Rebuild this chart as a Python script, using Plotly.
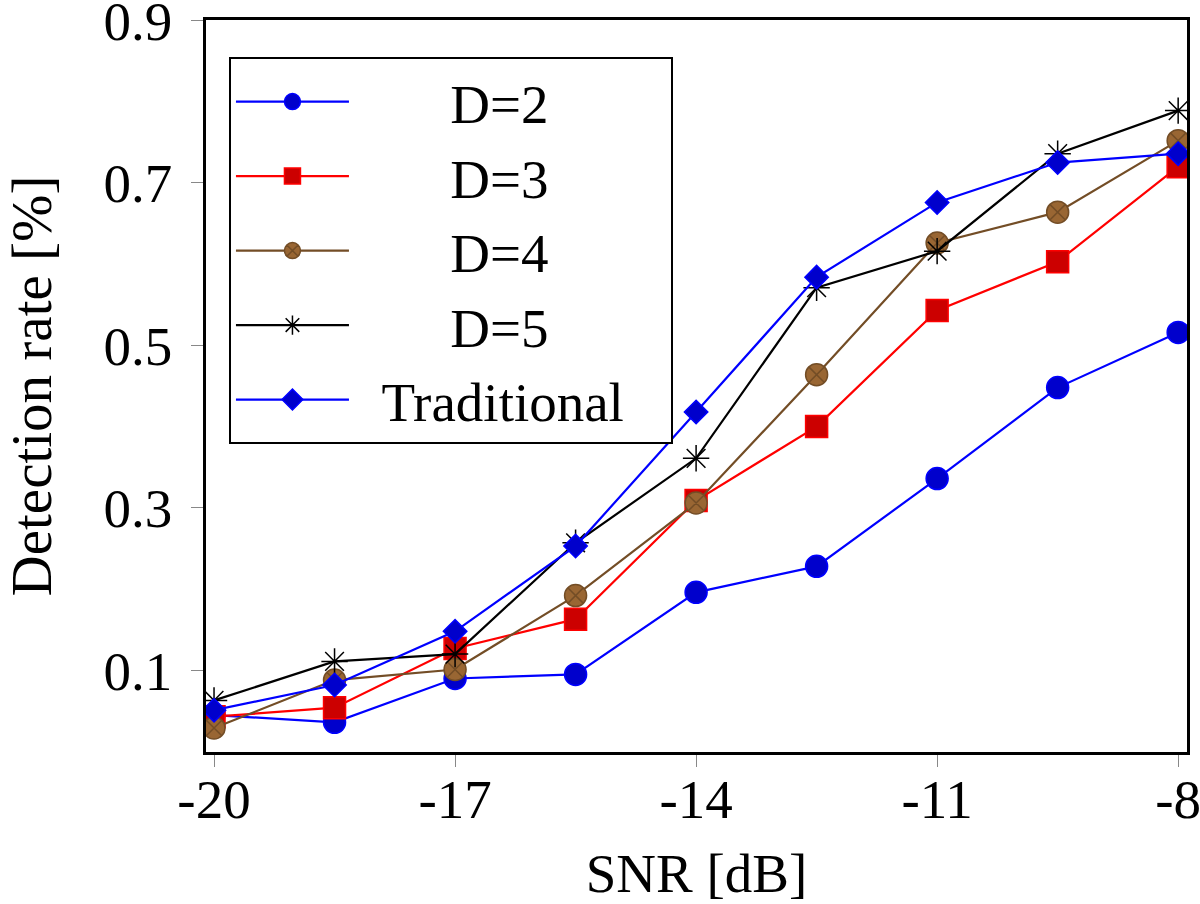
import plotly.graph_objects as go

# ---- data ----
snr = [-20, -18.5, -17, -15.5, -14, -12.5, -11, -9.5, -8]
d2 = [0.045, 0.036, 0.090, 0.095, 0.196, 0.228, 0.336, 0.448, 0.516]
d3 = [0.043, 0.054, 0.127, 0.163, 0.309, 0.400, 0.543, 0.603, 0.720]
d4 = [0.029, 0.088, 0.101, 0.192, 0.306, 0.464, 0.626, 0.664, 0.752]
d5 = [0.063, 0.111, 0.120, 0.257, 0.361, 0.571, 0.616, 0.736, 0.789]
trad = [0.051, 0.082, 0.148, 0.253, 0.418, 0.584, 0.676, 0.725, 0.736]

series_names = ["D=2", "D=3", "D=4", "D=5", "Traditional"]
x_tick_vals = [-20, -17, -14, -11, -8]
x_tick_text = ["-20", "-17", "-14", "-11", "-8"]
y_tick_vals = [0.1, 0.3, 0.5, 0.7, 0.9]
y_tick_text = ["0.1", "0.3", "0.5", "0.7", "0.9"]

FONT = "Liberation Serif"
FS = 55
NB = "\u00a0"

styles = [
    dict(line="#0000ff", fill="#0000cc", edge="#0000ff", symbol="circle", size=22),
    dict(line="#ff0000", fill="#cc0000", edge="#ff0000", symbol="square", size=22),
    dict(line="#734d26", fill="#996633", edge="#734d26", symbol="circle-x", size=22),
    dict(line="#000000", fill="#000000", edge="#000000", symbol="asterisk-open", size=22),
    dict(line="#0000ff", fill="#0000cc", edge="#0000ff", symbol="diamond", size=18),
]
pre = [7, 7, 7, 7, 2]
post = [0, 0, 0, 0, 3]

fig = go.Figure()
for name, ys, st, a, b in zip(series_names, [d2, d3, d4, d5, trad], styles, pre, post):
    fig.add_trace(go.Scatter(
        x=snr, y=ys, mode="lines+markers", name=NB * a + name + NB * b,
        line=dict(color=st["line"], width=2.2),
        marker=dict(symbol=st["symbol"], size=st["size"], color=st["fill"],
                    line=dict(color=st["edge"], width=1.5)),
    ))

xr = [-20.1, -7.89]
yr = [-0.0005, 0.9005]
tickfont = dict(family=FONT, size=FS, color="black")

fig.update_layout(
    width=1200, height=904,
    margin=dict(l=206, r=13, t=20, b=152),
    paper_bgcolor="white", plot_bgcolor="white",
    font=dict(family=FONT, size=FS, color="black"),
    showlegend=True,
    legend=dict(
        x=0.0234, y=0.949, xanchor="left", yanchor="top",
        bgcolor="white", bordercolor="black", borderwidth=2,
        font=dict(family=FONT, size=FS, color="black"),
        itemwidth=113, tracegroupgap=0,
    ),
    xaxis=dict(
        range=xr, tickvals=x_tick_vals, ticktext=x_tick_text,
        ticks="outside", ticklen=12, tickwidth=1.2, tickcolor="#888888",
        showline=True, linecolor="black", linewidth=2.5, mirror=True,
        showgrid=False, zeroline=False, tickfont=tickfont, automargin=False,
        ticklabelstandoff=-15, ticklabeloverflow="allow",
        title=dict(text="SNR [dB]", font=dict(family=FONT, size=FS), standoff=26),
    ),
    yaxis=dict(
        range=yr, tickvals=y_tick_vals, ticktext=y_tick_text,
        ticks="outside", ticklen=12, tickwidth=1.2, tickcolor="#888888",
        showline=True, linecolor="black", linewidth=2.5, mirror=True,
        showgrid=False, zeroline=False, tickfont=tickfont, automargin=False,
        ticklabelstandoff=8, ticklabeloverflow="allow",
        title=dict(text="Detection rate [%]", font=dict(family=FONT, size=57), standoff=40),
    ),
    xaxis2=dict(
        range=xr, overlaying="x", anchor="y", side="bottom",
        tickvals=x_tick_vals, showticklabels=False, automargin=False,
        ticks="inside", ticklen=13, tickwidth=1.2, tickcolor="#888888",
        showline=False, showgrid=False, zeroline=False,
    ),
    yaxis2=dict(
        range=yr, overlaying="y", anchor="x", side="left",
        tickvals=y_tick_vals, showticklabels=False, automargin=False,
        ticks="inside", ticklen=13, tickwidth=1.2, tickcolor="#888888",
        showline=False, showgrid=False, zeroline=False,
    ),
)

fig.write_html("out.html", config={"displayModeBar": False},
               post_script="document.body.style.margin='0';")
